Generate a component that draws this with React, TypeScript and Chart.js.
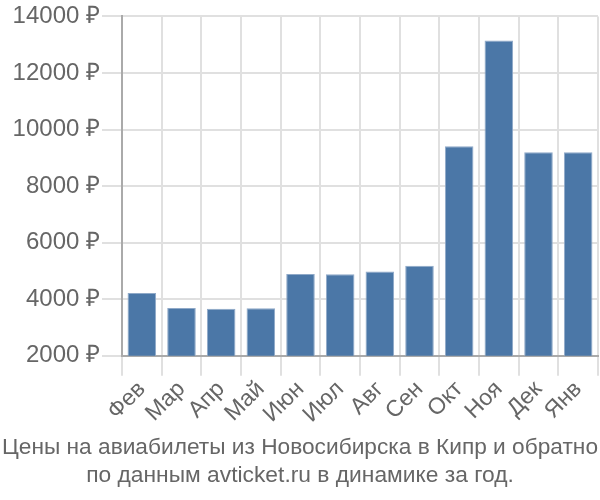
import React, { useEffect, useRef } from "react";
import { Chart, registerables } from "chart.js";

Chart.register(...registerables);

const categories = ["Фев", "Мар", "Апр", "Май", "Июн", "Июл", "Авг", "Сен", "Окт", "Ноя", "Дек", "Янв"];
const prices = [4220, 3690, 3660, 3680, 4890, 4880, 4980, 5180, 9410, 13150, 9200, 9200];
const titleLines = ["Цены на авиабилеты из Новосибирска в Кипр и обратно", "по данным avticket.ru в динамике за год."];

export default function App() {
  const ref = useRef<HTMLCanvasElement>(null);
  useEffect(() => {
    document.body.style.margin = "0";
    const font = "'Liberation Sans', Arial, sans-serif";
    const chart = new Chart(ref.current!, {
      type: "bar",
      data: {
        labels: categories,
        datasets: [
          {
            data: prices,
            backgroundColor: "#4b77a7",
            borderColor: "#8fa9c8",
            borderWidth: 1,
          },
        ],
      },
      options: {
        animation: false,
        responsive: false,
        layout: { padding: { left: 2, right: 2, top: 2, bottom: 11 } },
        plugins: {
          legend: { display: false },
          tooltip: { enabled: false },
          title: {
            display: true,
            position: "bottom",
            text: titleLines,
            color: "#666",
            font: { family: font, size: 22.8, weight: "normal", lineHeight: 1.2 },
            padding: { top: 6, bottom: 0 },
          },
        },
        scales: {
          x: {
            grid: { color: "#e0e0e0", lineWidth: 2, tickLength: 20, offset: true },
            border: { color: "#aaa", width: 2 },
            ticks: {
              color: "#666",
              font: { family: font, size: 23 },
              maxRotation: 45,
              minRotation: 45,
              autoSkip: false,
              padding: 0,
            },
          },
          y: {
            min: 2000,
            max: 14000,
            afterFit: (scale: any) => {
              scale.width = 120;
            },
            grid: { color: "#e0e0e0", lineWidth: 2, tickLength: 20 },
            border: { color: "#aaa", width: 2 },
            ticks: {
              stepSize: 2000,
              color: "#666",
              font: { family: font, size: 24 },
              padding: 2,
              callback: (v: any) => v + " ₽",
            },
          },
        },
      },
    });
    return () => chart.destroy();
  }, []);
  return <canvas ref={ref} width={600} height={500} style={{ display: "block" }} />;
}
